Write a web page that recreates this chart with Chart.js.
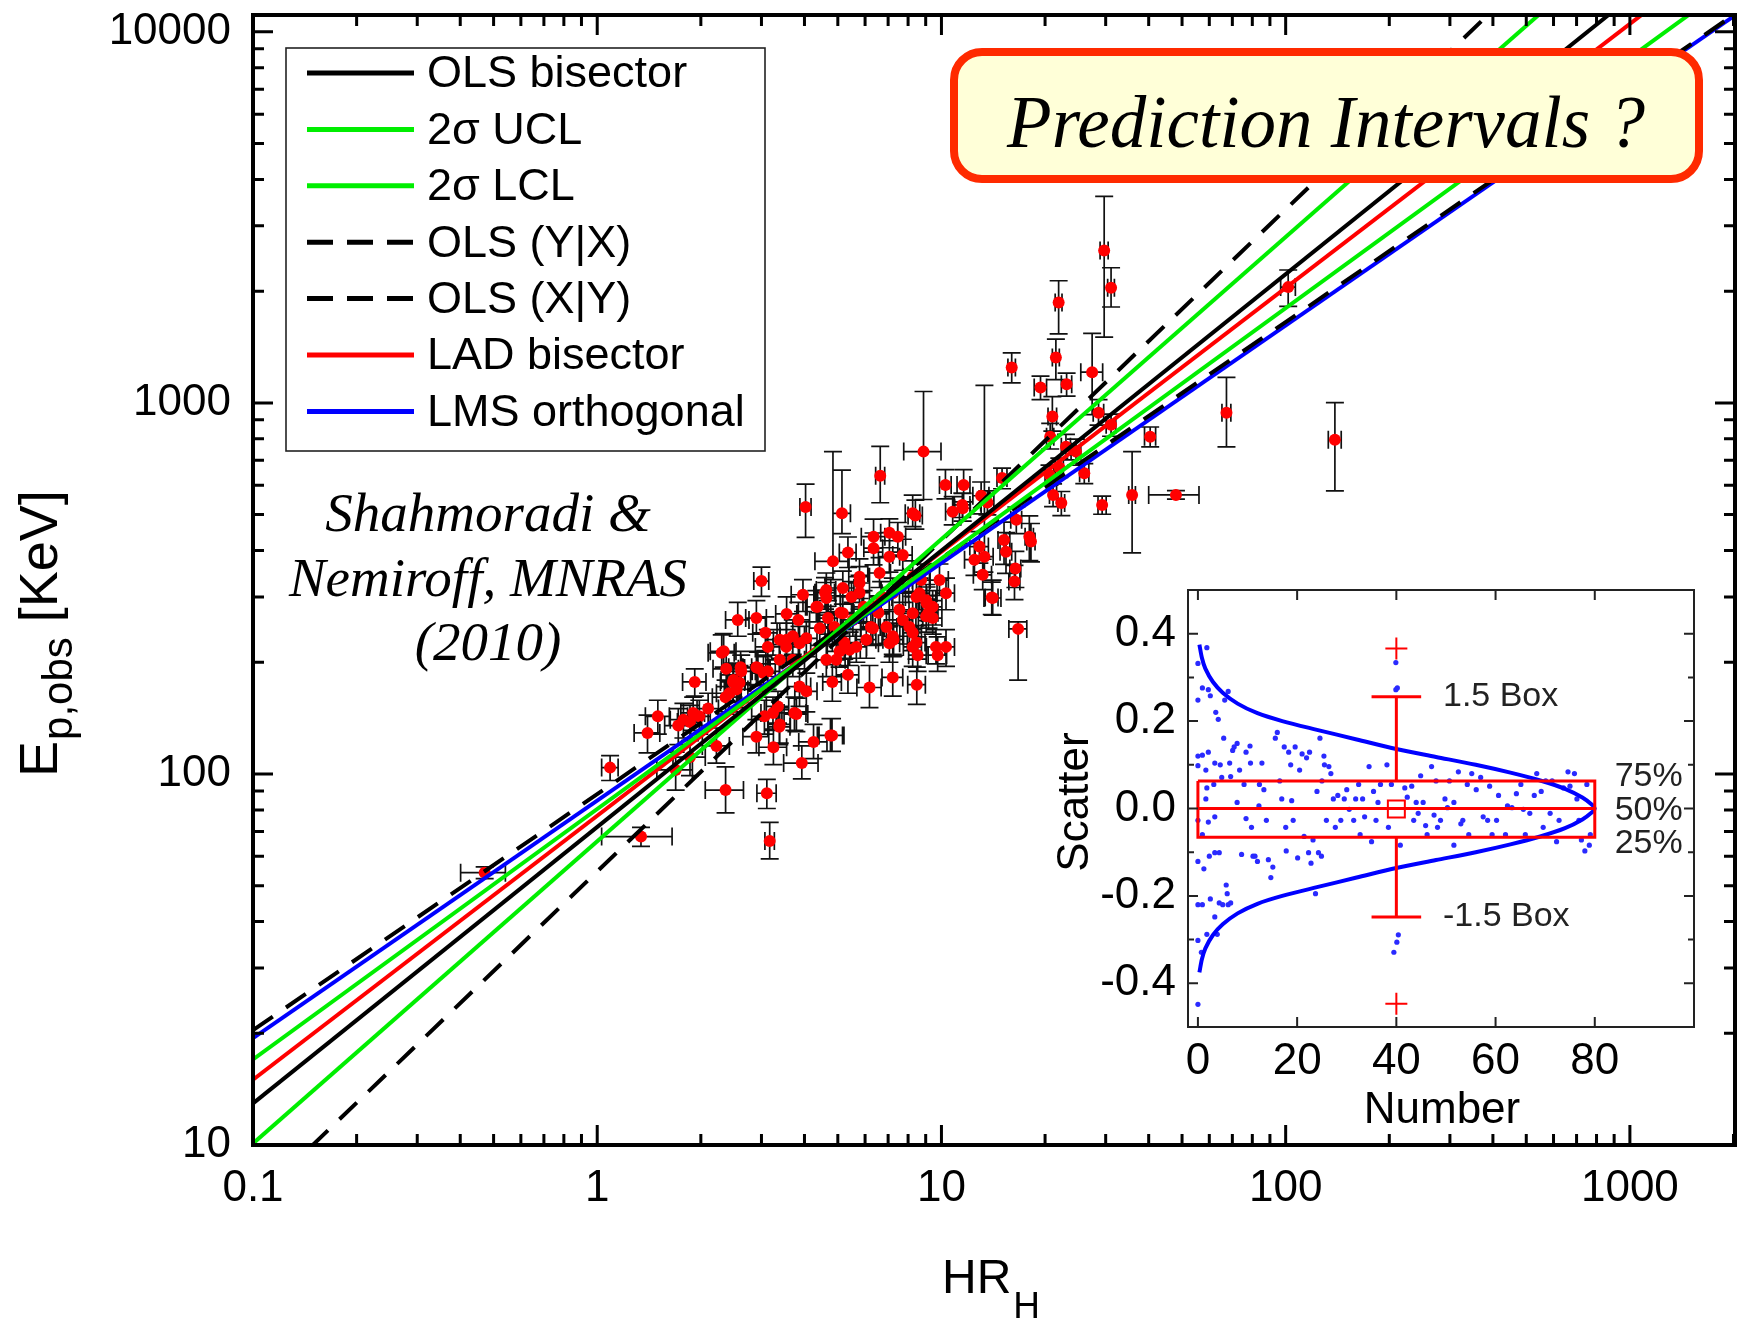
<!DOCTYPE html>
<html>
<head>
<meta charset="utf-8">
<script src="https://cdn.jsdelivr.net/npm/chart.js@4.4.1/dist/chart.umd.min.js"></script>
<style>
	body { margin: 0; background: #fff; }
	#wrap { position: relative; width: 1741px; height: 1323px; }
	#main { position: absolute; left: 0; top: 0; }
	#inset { position: absolute; left: 1040px; top: 570px; }
</style>
</head>
<body>
<div id="wrap">
	<canvas id="main" width="1741" height="1323"></canvas>
	<canvas id="inset" width="680" height="570"></canvas>
</div>
<script>
var SANS = '"Liberation Sans", Arial, sans-serif';
var SERIF = '"Liberation Serif", "Times New Roman", serif';

// ---- main panel: GRB sample, HR_H vs Ep,obs ----
var hr = [4.03,5.14,4.84,6.64,8.87,10.27,3.0,5.35,8.25,8.4,
	6.35,7.06,7.47,6.35,7.06,7.72,10.78,11.53,13.04,5.78,
	5.17,5.78,4.63,4.63,3.96,2.56,2.9,3.55,3.08,2.33,
	4.33,4.68,4.43,3.39,3.70,3.54,4.05,5.17,5.53,6.68,
	7.22,6.32,6.05,7.06,7.22,7.55,7.72,8.25,9.03,9.43,
	8.63,9.87,10.31,8.25,8.25,8.53,10.31,9.43,9.03,12.47,
	13.33,13.18,14.09,12.89,5.41,5.66,5.06,6.61,8.25,8.73,
	2.37,2.62,2.48,2.59,2.42,2.54,1.92,2.93,3.13,3.87,
	3.39,3.70,4.63,4.95,9.75,4.82,5.35,6.18,7.22,8.48,
	3.87,4.05,1.50,1.40,1.72,1.90,1.98,2.10,1.86,1.09,
	3.06,3.24,3.35,3.39,3.79,2.90,3.25,4.25,4.81,3.93,
	2.36,3.11,3.17,1.34,2.22,1.86,1.69,0.471,
	29.7,31.1,21.9,16.0,21.5,19.4,23.1,27.4,21.0,28.6,
	20.7,31.1,23.0,24.6,101.7,67.3,139,40.4,35.8,48.0,
	26.0,15.0,21.1,22.3,29.3,13.6,11.5,20.6,22.0,18.0,
	18.2,15.2,15.4,16.4,16.3,14.0,16.7,16.5,11.6,
	8.46,9.05,9.17,8.07,8.46,9.64,7.26,6.92,6.24,6.56,
	5.94,5.48,5.78,4.59,4.37,5.09,4.89,5.22,3.84,3.55,
	3.13,2.90,3.04,2.61,2.49,2.36,2.30,1.78,3.38,3.74,4.76];
var ep = [524,504,374,636,739,601,331,395,504,497,
	436,447,436,406,385,389,509,520,562,340,
	317,308,313,298,304,260,263,270,240,214,
	282,263,247,230,235,220,232,271,260,300,
	307,247,230,225,235,277,260,271,294,282,
	307,333,307,240,220,209,220,263,266,378,
	385,344,298,410,216,220,214,348,340,333,
	192,189,177,176,165,169,177,193,189,225,
	203,203,203,203,209,177,185,171,182,174,
	172,167,143,129,135,146,143,150,138,104,
	143,146,152,136,145,126,118,122,127,107,
	90.5,88.7,66.0,67.8,119,111,102.5,54.2,
	2574,2043,1864,1245,1325,1100,1123,1210,919,941,
	811,873,762,739,2051,941,795,811,565,565,
	646,627,565,537,531,539,531,640,670,436,
	423,427,397,358,330,299,246,484,601,
	300,289,272,249,226,220,230,249,249,272,
	282,300,327,308,282,272,249,226,260,230,
	220,194,187,194,179,161,212,140,134,146,127];
var hrErr = [0.15,0.3,0.55,0.2,1.1,0.4,0.15,0.3,0.4,0.4,
	0.5,0.4,0.4,0.4,0.5,0.5,0.5,0.6,0.7,0.4,
	0.4,0.4,0.3,0.3,0.3,0.2,0.2,0.25,0.25,0.2,
	0.3,0.3,0.3,0.3,0.3,0.3,0.3,0.4,0.4,0.5,
	0.5,0.5,0.4,0.5,0.5,0.5,0.5,0.5,0.6,0.6,
	0.6,0.6,0.6,0.5,0.5,0.5,0.6,0.6,0.6,0.8,
	0.8,0.8,0.8,0.8,0.4,0.4,0.4,0.5,0.5,0.5,
	0.2,0.2,0.2,0.2,0.2,0.2,0.15,0.25,0.25,0.3,
	0.3,0.3,0.3,0.3,0.6,0.3,0.4,0.5,0.5,0.5,
	0.3,0.3,0.12,0.12,0.15,0.15,0.15,0.15,0.15,0.06,
	0.25,0.25,0.25,0.25,0.3,0.25,0.3,0.4,0.4,0.45,
	0.3,0.2,0.1,0.31,0.2,0.2,0.2,0.07,
	0.8,0.7,0.5,0.4,0.5,0.8,0.8,2.0,0.6,1.0,
	0.5,1.0,0.7,0.8,5,2,6,1.5,0.8,8,
	0.8,0.5,0.5,0.5,0.8,0.6,0.6,0.6,0.6,0.5,
	0.5,0.6,0.6,0.6,0.6,0.6,1.0,0.6,0.5,
	0.6,0.6,0.6,0.5,0.5,0.6,0.5,0.5,0.4,0.5,
	0.4,0.4,0.4,0.3,0.3,0.4,0.3,0.4,0.3,0.3,
	0.25,0.25,0.25,0.2,0.2,0.2,0.2,0.15,0.25,0.3,0.4];
var epErrLo = [90,60,40,98,190,50,30,35,40,40,
	40,40,40,40,35,35,40,40,60,30,
	30,30,30,30,30,25,25,25,25,20,
	25,25,25,25,25,20,25,25,25,30,
	30,25,25,25,25,25,25,25,30,30,
	30,30,30,25,25,20,25,25,25,35,
	35,30,30,40,20,20,20,30,30,30,
	20,20,20,20,18,18,15,20,20,20,
	20,20,20,20,20,20,20,20,20,20,
	20,20,15,15,15,15,15,15,15,8,
	15,15,15,15,15,12,12,12,12,10,
	12,8,7,4,12,12,12,2,
	1070,230,330,113,170,80,80,280,80,70,
	60,60,60,60,230,180,216,50,171,15,
	40,40,40,40,30,40,40,40,40,60,
	50,60,50,40,35,30,67,40,60,
	30,30,25,25,22,22,22,25,25,25,
	25,30,30,30,25,25,25,22,25,22,
	22,20,20,20,18,16,20,15,14,15,12];
var epErrHi = [80,155,365,127,334,60,30,40,60,50,
	50,40,40,40,40,40,50,50,50,40,
	35,35,35,30,30,30,30,30,25,25,
	30,30,25,25,25,25,25,30,30,30,
	30,25,25,25,25,30,30,30,30,30,
	30,35,30,25,25,25,25,30,30,40,
	730,35,35,40,25,25,25,35,35,35,
	20,20,20,20,20,20,15,20,20,25,
	20,20,20,20,25,20,20,25,25,20,
	20,20,15,15,15,15,15,15,15,8,
	15,15,15,15,15,14,14,14,14,12,
	14,8,8,4,14,14,12,2,
	1030,270,270,119,160,80,80,330,120,80,
	70,60,60,60,230,230,207,50,174,15,
	40,40,40,40,30,40,40,40,40,60,
	50,50,50,40,35,30,11,40,60,
	30,30,30,25,25,25,25,25,25,30,
	30,30,35,30,30,30,25,25,30,25,
	25,20,20,20,20,18,25,15,15,15,14];

// fitted relations, Ep at HR = 0.1 and at HR = 2000
var fitNames = ['OLS bisector', '2\u03c3 UCL', '2\u03c3 LCL', 'OLS (Y|X)', 'OLS (X|Y)', 'LAD bisector', 'LMS orthogonal'];
var fitHr = [0.1, 2000];
var fitEpLow = [12.95, 10.1, 17.0, 20.4, 7.0, 15.0, 19.4];
var fitEpHigh = [20700, 32100, 13600, 11100, 48100, 17200, 11000];
var fitColors = ['#000000', '#00ee00', '#00ee00', '#000000', '#000000', '#ff0000', '#0000ff'];
var fitDash = [[], [], [], [24, 16], [24, 16], [], []];

var hrTicks = [0.1, 1, 10, 100, 1000];
var epTicks = [10, 100, 1000, 10000];

// ---- inset: scatter about the fit, box statistics ----
var dotNumber = [0,1.8,0,0.9,2.1,2.5,0,0.9,2.1,0,1.6,3.4,3.2,1.8,1.6,0,0.9,2.1,3.4,0,1.2,2.3,3.4,4.3,4.5,4.8,0,0.9,2.5,3.9,0,1.8,0.7,3.4,4.3,5.0,0,
	3.6,4.1,5.4,5.2,6.1,6.4,6.6,7.0,7.3,7.9,8.4,8.8,9.3,9.7,9.7,10.6,11.1,10.8,11.5,12.0,12.3,12.4,10.5,7.9,5.7,5.9,6.1,6.6,
	12.9,13.3,13.8,14.2,14.7,15.1,15.6,16.0,16.5,16.9,17.4,17.7,17.8,18.3,18.7,18.9,19.2,19.6,20.1,20.5,21.0,21.4,21.9,22.3,22.5,22.8,23.2,23.7,24.0,24.3,24.6,24.9,25.0,25.4,
	25.5,25.9,26.4,26.8,27.3,27.7,28.2,28.8,29.5,30.0,30.5,31.4,31.8,32.4,32.7,33.2,33.6,34.5,35.0,35.4,35.9,36.3,36.8,38.1,38.4,39.0,39.9,39.9,40.2,39.5,40.1,40.4,
	40.8,41.7,42.2,43.1,43.5,44.0,44.4,44.9,45.4,45.9,46.2,47.1,47.6,48.0,48.3,48.9,49.8,50.3,50.7,51.6,51.6,52.5,53.0,53.4,54.3,54.6,
	55.2,56.1,57.0,57.5,58.4,58.8,59.3,60.2,60.6,62.0,62.4,63.3,64.2,65.1,65.6,66.0,66.9,67.8,68.3,69.2,69.6,70.1,71.0,71.4,72.3,72.8,73.7,74.6,75.0,75.9,76.4,76.8,77.3,78.0,78.9,78.4,79.1];
var dotScatter = [0.332,0.368,0.248,0.276,0.272,0.258,0.120,0.122,0.129,0.098,0.088,0.104,0.055,0.047,0.022,-0.027,-0.060,-0.031,-0.019,-0.121,-0.138,-0.109,-0.101,-0.101,0.100,0.071,-0.220,-0.220,-0.207,-0.288,-0.302,-0.288,-0.329,-0.248,-0.216,-0.220,-0.448,
	0.220,0.204,0.248,0.161,0.268,0.104,0.073,0.133,0.141,0.014,0.088,-0.105,0.055,0.129,-0.023,0.104,-0.109,-0.043,-0.109,-0.121,0.006,0.055,0.143,0.149,-0.175,-0.195,-0.220,-0.216,
	0.104,0.043,-0.027,-0.117,-0.158,-0.134,0.161,0.174,0.063,0.022,0.141,-0.043,-0.097,0.129,0.100,0.018,-0.027,0.141,-0.113,0.088,0.125,-0.064,0.116,-0.101,0.129,-0.125,-0.072,-0.195,0.039,-0.101,0.161,-0.109,0.063,0.120,
	0.100,-0.027,0.096,0.080,0.022,-0.043,0.030,-0.027,0.022,0.043,-0.002,-0.027,0.022,0.055,-0.060,0.022,-0.019,0.096,-0.076,0.039,-0.027,0.014,0.055,0.100,-0.043,0.055,0.272,0.334,0.276,-0.329,-0.306,-0.289,
	-0.084,0.047,0.026,0.051,-0.027,0.014,-0.011,0.075,0.014,-0.039,-0.060,0.096,-0.015,0.063,-0.043,-0.027,0.022,0.002,0.063,0.014,-0.084,0.084,-0.035,-0.027,0.055,-0.060,
	0.080,0.043,0.071,-0.019,-0.027,0.051,-0.060,-0.027,0.030,-0.060,0.006,0.002,0.034,0.055,-0.002,-0.060,-0.011,0.030,0.080,0.039,-0.043,0.063,-0.011,0.063,-0.076,-0.027,0.047,0.084,0.051,0.080,0.022,-0.027,-0.072,-0.097,-0.084,0.055,-0.060];

// normal curve (drawn sideways), top half then bottom half
var curveNumber = [0.3,0.8,1.5,3,5,8,12,17,24,32,40,48,56,63,69,74,77.5,79.5,80,
	79.5,77.5,74,69,63,56,48,40,32,24,17,12,8,5,3,1.5,0.8,0.3];
var curveScatter = [0.375,0.345,0.32,0.29,0.265,0.24,0.218,0.2,0.18,0.158,0.136,0.118,0.1,0.082,0.064,0.045,0.025,0.008,0,
	-0.008,-0.025,-0.045,-0.064,-0.082,-0.1,-0.118,-0.136,-0.158,-0.18,-0.2,-0.218,-0.24,-0.265,-0.29,-0.32,-0.345,-0.375];

var boxSpan = [0, 80];          // box drawn across the Number axis
var boxQuartiles = [-0.066, 0.0, 0.063]; // 25%, 50%, 75%
var boxWhiskers = [-0.248, 0.256];
var boxOutliers = [-0.447, 0.366];
var boxMean = -0.001;
var whiskerAt = 40;
var whiskerCap = [35, 45];

var numberTicks = [0, 20, 40, 60, 80];
var scatterTicks = [-0.4, -0.2, 0, 0.2, 0.4];
var scatterMinor = [-0.3, -0.1, 0.1, 0.3];


function pts(xs, ys) {
	return xs.map(function (v, i) { return {x: v, y: ys[i]}; });
}

function clipArea(ctx, a) {
	ctx.beginPath();
	ctx.rect(a.left, a.top, a.right - a.left, a.bottom - a.top);
	ctx.clip();
}

// keep the plot box where it is: no extra room for overhanging tick labels
function fixWidth(w) {
	return function (s) { s.width = w; s.paddingTop = 0; s.paddingBottom = 0; };
}
function fixHeight(h) {
	return function (s) { s.height = h; s.paddingLeft = 0; s.paddingRight = 0; };
}

// error bars under the red markers
var errorBars = {
	id: 'errorBars',
	beforeDatasetsDraw: function (chart) {
		var ctx = chart.ctx, a = chart.chartArea;
		var sx = chart.scales.x, sy = chart.scales.y;
		var cap = 9;
		ctx.save();
		clipArea(ctx, a);
		ctx.strokeStyle = '#111';
		ctx.lineWidth = 1.7;
		ctx.beginPath();
		hr.forEach(function (h, i) {
			var px = sx.getPixelForValue(h);
			var py = sy.getPixelForValue(ep[i]);
			var x0 = sx.getPixelForValue(h - hrErr[i]);
			var x1 = sx.getPixelForValue(h + hrErr[i]);
			var y0 = sy.getPixelForValue(ep[i] - epErrLo[i]);
			var y1 = sy.getPixelForValue(ep[i] + epErrHi[i]);
			ctx.moveTo(x0, py); ctx.lineTo(x1, py);
			ctx.moveTo(x0, py - cap); ctx.lineTo(x0, py + cap);
			ctx.moveTo(x1, py - cap); ctx.lineTo(x1, py + cap);
			ctx.moveTo(px, y0); ctx.lineTo(px, y1);
			ctx.moveTo(px - cap, y0); ctx.lineTo(px + cap, y0);
			ctx.moveTo(px - cap, y1); ctx.lineTo(px + cap, y1);
		});
		ctx.stroke();
		ctx.restore();
	}
};

// thick frame with inward log ticks on all four sides
var logFrame = {
	id: 'logFrame',
	afterDatasetsDraw: function (chart) {
		var ctx = chart.ctx, a = chart.chartArea;
		var sx = chart.scales.x, sy = chart.scales.y;
		ctx.save();
		ctx.strokeStyle = '#000';
		ctx.lineWidth = 3;
		ctx.beginPath();
		var e, m, v, p, len;
		for (e = -1; e <= 3; e++) {
			for (m = 1; m <= 9; m++) {
				v = m * Math.pow(10, e);
				if (v < sx.min || v > sx.max) continue;
				p = sx.getPixelForValue(v);
				len = m === 1 ? 20 : 11;
				ctx.moveTo(p, a.bottom); ctx.lineTo(p, a.bottom - len);
				ctx.moveTo(p, a.top); ctx.lineTo(p, a.top + len);
			}
		}
		for (e = 1; e <= 4; e++) {
			for (m = 1; m <= 9; m++) {
				v = m * Math.pow(10, e);
				if (v < sy.min || v > sy.max) continue;
				p = sy.getPixelForValue(v);
				len = m === 1 ? 20 : 11;
				ctx.moveTo(a.left, p); ctx.lineTo(a.left + len, p);
				ctx.moveTo(a.right, p); ctx.lineTo(a.right - len, p);
			}
		}
		ctx.stroke();
		ctx.lineWidth = 4;
		ctx.strokeRect(a.left, a.top, a.right - a.left, a.bottom - a.top);
		ctx.restore();
	}
};

// axis titles, legend box, notes
var mainText = {
	id: 'mainText',
	afterDraw: function (chart) {
		var ctx = chart.ctx;
		ctx.save();
		ctx.fillStyle = '#000';

		// y title, rotated
		ctx.save();
		ctx.translate(57, 777);
		ctx.rotate(-Math.PI / 2);
		ctx.textAlign = 'left';
		ctx.textBaseline = 'alphabetic';
		ctx.font = '54px ' + SANS;
		ctx.fillText('E', 0, 0);
		var w = ctx.measureText('E').width + 1;
		ctx.font = '42px ' + SANS;
		ctx.fillText('p,obs', w, 15);
		w += ctx.measureText('p,obs').width;
		ctx.font = '54px ' + SANS;
		ctx.fillText(' [KeV]', w, 0);
		ctx.restore();

		// x title
		ctx.textAlign = 'left';
		ctx.textBaseline = 'alphabetic';
		ctx.font = '48px ' + SANS;
		ctx.fillText('HR', 942, 1293);
		var hw = ctx.measureText('HR').width;
		ctx.font = '37px ' + SANS;
		ctx.fillText('H', 942 + hw + 2, 1318);

		// legend
		ctx.fillStyle = '#fff';
		ctx.fillRect(286, 48, 479, 403);
		ctx.strokeStyle = '#222';
		ctx.lineWidth = 1.6;
		ctx.strokeRect(286, 48, 479, 403);
		ctx.font = '45px ' + SANS;
		ctx.textBaseline = 'middle';
		ctx.fillStyle = '#000';
		fitNames.forEach(function (name, i) {
			var yy = 73 + i * 56.4;
			ctx.beginPath();
			ctx.strokeStyle = fitColors[i];
			ctx.lineWidth = 5;
			ctx.setLineDash(fitDash[i].length ? [26, 14] : []);
			ctx.moveTo(307, yy); ctx.lineTo(414, yy);
			ctx.stroke();
			ctx.setLineDash([]);
			ctx.fillText(name, 427, yy + 2);
		});

		// reference note
		ctx.font = 'italic 55px ' + SERIF;
		ctx.textAlign = 'center';
		ctx.textBaseline = 'alphabetic';
		ctx.fillText('Shahmoradi &', 488, 531);
		ctx.fillText('Nemiroff, MNRAS', 488, 596);
		ctx.fillText('(2010)', 488, 660);

		// callout box
		ctx.beginPath();
		ctx.roundRect(954, 52, 745, 127, 28);
		ctx.fillStyle = '#ffffd8';
		ctx.fill();
		ctx.lineWidth = 8;
		ctx.strokeStyle = '#ff2a00';
		ctx.stroke();
		ctx.fillStyle = '#000';
		ctx.font = 'italic 73px ' + SERIF;
		ctx.fillText('Prediction Intervals ?', 1326, 147);
		ctx.restore();
	}
};

var fitSets = fitNames.map(function (name, i) {
	return {
		label: name,
		data: pts(fitHr, [fitEpLow[i], fitEpHigh[i]]),
		showLine: true,
		borderColor: fitColors[i],
		borderWidth: 4,
		borderDash: fitDash[i],
		pointRadius: 0,
		tension: 0
	};
});

new Chart(document.getElementById('main'), {
	type: 'scatter',
	data: {
		datasets: fitSets.concat([{
			label: 'GRBs',
			data: pts(hr, ep),
			pointRadius: 6,
			pointBackgroundColor: '#ff0000',
			pointBorderWidth: 0
		}])
	},
	options: {
		responsive: false,
		animation: false,
		events: [],
		layout: {padding: {left: 0, top: 15, right: 5, bottom: 0}},
		plugins: {legend: {display: false}, tooltip: {enabled: false}},
		scales: {
			x: {
				type: 'logarithmic',
				min: 0.1,
				max: 2020,
				afterBuildTicks: function (s) { s.ticks = hrTicks.map(function (v) { return {value: v}; }); },
				afterFit: fixHeight(178),
				grid: {display: false, drawTicks: false},
				border: {display: false},
				ticks: {
					autoSkip: false, maxRotation: 0, padding: 17, color: '#000',
					font: {family: SANS, size: 44},
					callback: function (v) { return String(v); }
				}
			},
			y: {
				type: 'logarithmic',
				min: 10,
				max: 11100,
				afterBuildTicks: function (s) { s.ticks = epTicks.map(function (v) { return {value: v}; }); },
				afterFit: fixWidth(253),
				grid: {display: false, drawTicks: false},
				border: {display: false},
				ticks: {
					autoSkip: false, padding: 22, color: '#000',
					font: {family: SANS, size: 44},
					callback: function (v) { return String(v); }
				}
			}
		}
	},
	plugins: [errorBars, logFrame, mainText]
});


// inset panel
var insetFrame = {
	id: 'insetFrame',
	beforeDatasetsDraw: function (chart) {
		var ctx = chart.ctx, a = chart.chartArea;
		ctx.save();
		ctx.fillStyle = '#fff';
		ctx.fillRect(a.left, a.top, a.right - a.left, a.bottom - a.top);
		ctx.restore();
	},
	afterDatasetsDraw: function (chart) {
		var ctx = chart.ctx, a = chart.chartArea;
		var sx = chart.scales.x, sy = chart.scales.y;
		ctx.save();
		ctx.strokeStyle = '#222';
		ctx.lineWidth = 2;
		ctx.beginPath();
		numberTicks.forEach(function (v) {
			var p = sx.getPixelForValue(v);
			ctx.moveTo(p, a.bottom); ctx.lineTo(p, a.bottom - 10);
			ctx.moveTo(p, a.top); ctx.lineTo(p, a.top + 10);
		});
		scatterTicks.concat(scatterMinor).forEach(function (v) {
			var p = sy.getPixelForValue(v);
			var len = scatterTicks.indexOf(v) >= 0 ? 10 : 6;
			ctx.moveTo(a.left, p); ctx.lineTo(a.left + len, p);
			ctx.moveTo(a.right, p); ctx.lineTo(a.right - len, p);
		});
		ctx.stroke();
		ctx.strokeRect(a.left, a.top, a.right - a.left, a.bottom - a.top);
		ctx.restore();
	},
	afterDraw: function (chart) {
		var ctx = chart.ctx;
		var sx = chart.scales.x, sy = chart.scales.y;
		ctx.save();
		ctx.fillStyle = '#000';
		ctx.font = '44px ' + SANS;
		ctx.textAlign = 'center';
		ctx.textBaseline = 'alphabetic';
		ctx.fillText('Number', 402, 553);
		ctx.save();
		ctx.translate(48, 232);
		ctx.rotate(-Math.PI / 2);
		ctx.fillText('Scatter', 0, 0);
		ctx.restore();

		ctx.fillStyle = '#222';
		ctx.font = '34px ' + SANS;
		ctx.textAlign = 'left';
		ctx.textBaseline = 'middle';
		ctx.fillText('1.5 Box', sx.getPixelForValue(49.4), sy.getPixelForValue(boxWhiskers[1]));
		ctx.fillText('-1.5 Box', sx.getPixelForValue(49.4), sy.getPixelForValue(boxWhiskers[0]));
		var lx = sx.getPixelForValue(84);
		ctx.fillText('75%', lx, sy.getPixelForValue(boxQuartiles[2]) - 4);
		ctx.fillText('50%', lx, sy.getPixelForValue(boxQuartiles[1]) + 2);
		ctx.fillText('25%', lx, sy.getPixelForValue(boxQuartiles[0]) + 6);
		ctx.restore();
	}
};

function redLine(data) {
	return {data: data, showLine: true, borderColor: '#ff0000', borderWidth: 3, pointRadius: 0, tension: 0};
}

var q1 = boxQuartiles[0], med = boxQuartiles[1], q3 = boxQuartiles[2];

new Chart(document.getElementById('inset'), {
	type: 'scatter',
	data: {
		datasets: [
			redLine(pts([boxSpan[0], boxSpan[1], boxSpan[1], boxSpan[0], boxSpan[0]], [q3, q3, q1, q1, q3])),
			redLine(pts(boxSpan, [med, med])),
			redLine(pts([whiskerAt, whiskerAt], [q3, boxWhiskers[1]])),
			redLine(pts([whiskerAt, whiskerAt], [q1, boxWhiskers[0]])),
			redLine(pts(whiskerCap, [boxWhiskers[1], boxWhiskers[1]])),
			redLine(pts(whiskerCap, [boxWhiskers[0], boxWhiskers[0]])),
			{
				data: [{x: whiskerAt, y: boxMean}],
				pointStyle: 'rect', pointRadius: 12,
				pointBackgroundColor: 'rgba(0,0,0,0)', pointBorderColor: '#ff0000', pointBorderWidth: 2
			},
			{
				data: pts([whiskerAt, whiskerAt], boxOutliers),
				pointStyle: 'cross', pointRadius: 11,
				pointBorderColor: '#ff0000', pointBorderWidth: 2
			},
			{
				data: pts(curveNumber, curveScatter),
				showLine: true, borderColor: '#0000ff', borderWidth: 4, pointRadius: 0, tension: 0.3
			},
			{
				data: pts(dotNumber, dotScatter),
				pointRadius: 2.6, pointBackgroundColor: '#2a2aff', pointBorderWidth: 0
			}
		]
	},
	options: {
		responsive: false,
		animation: false,
		events: [],
		layout: {padding: {left: 0, top: 20, right: 26, bottom: 0}},
		plugins: {legend: {display: false}, tooltip: {enabled: false}},
		scales: {
			x: {
				type: 'linear', min: -2, max: 100,
				afterBuildTicks: function (s) { s.ticks = numberTicks.map(function (v) { return {value: v}; }); },
				afterFit: fixHeight(113),
				grid: {display: false, drawTicks: false},
				border: {display: false},
				ticks: {autoSkip: false, maxRotation: 0, padding: 8, color: '#000', font: {family: SANS, size: 44}}
			},
			y: {
				type: 'linear', min: -0.5, max: 0.5,
				afterBuildTicks: function (s) { s.ticks = scatterTicks.map(function (v) { return {value: v}; }); },
				afterFit: fixWidth(148),
				grid: {display: false, drawTicks: false},
				border: {display: false},
				ticks: {
					autoSkip: false, padding: 12, color: '#000', font: {family: SANS, size: 44},
					callback: function (v) { return v.toFixed(1); }
				}
			}
		}
	},
	plugins: [insetFrame]
});
</script>
</body>
</html>
